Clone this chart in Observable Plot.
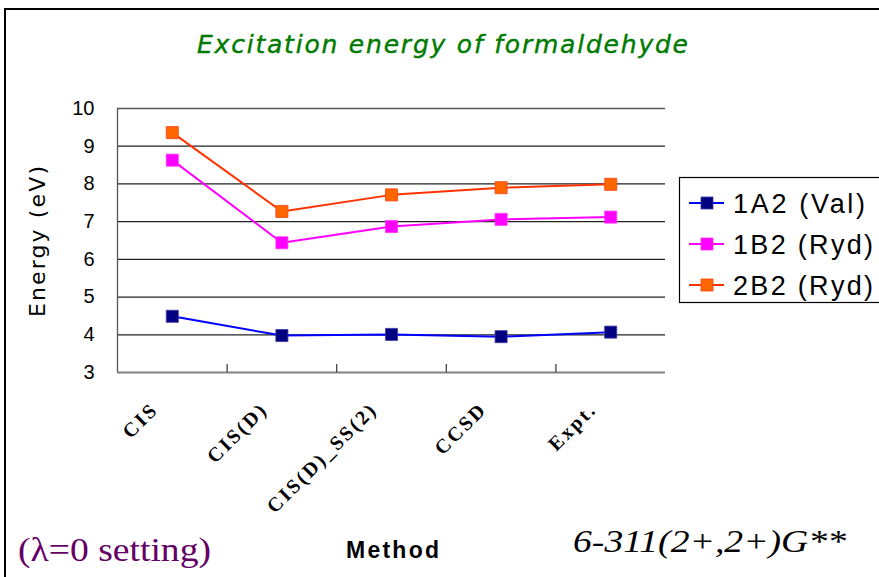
<!DOCTYPE html>
<html>
<head>
<meta charset="utf-8">
<script src="https://cdn.jsdelivr.net/npm/d3@7"></script>
<script src="https://cdn.jsdelivr.net/npm/@observablehq/plot@0.6"></script>
<style>
  html, body { margin: 0; padding: 0; background: #fff; }
  #wrap { position: relative; width: 879px; height: 577px; overflow: hidden; background: #fff; }
  #frame { position: absolute; left: 4px; top: 8px; width: 900px; height: 600px; border-left: 2px solid #000; border-top: 2px solid #000; }
  #chart { position: absolute; left: 0; top: 0; }
  #overlay { position: absolute; left: 0; top: 0; pointer-events: none; }
  g[aria-label="x-axis tick label"] text { letter-spacing: 2.5px; }
</style>
</head>
<body>
<div id="wrap">
  <div id="frame"></div>
  <div id="chart"></div>
  <svg id="overlay" width="879" height="577"></svg>
</div>
<script>
// ---- data ----
const methods = ["CIS", "CIS(D)", "CIS(D)_SS(2)", "CCSD", "Expt."];
const seriesNames = ["1A2 (Val)", "1B2 (Ryd)", "2B2 (Ryd)"];
const val1A2 = [4.49, 3.98, 4.01, 3.95, 4.07];
const ryd1B2 = [8.63, 6.44, 6.87, 7.06, 7.12];
const ryd2B2 = [9.36, 7.27, 7.71, 7.90, 7.99];
const yTicks = [3, 4, 5, 6, 7, 8, 9, 10];
const lineColors = ["#0000ff", "#ff00ff", "#ff3300"];
const markerFill = ["#000080", "#ff00ff", "#ff6600"];
const markerStroke = ["#3a3aa0", "#ff33ff", "#ff4010"];
const titleText = "Excitation energy of formaldehyde";
const yLabel = "Energy (eV)";
const xLabel = "Method";
const noteLeft = "(\u03bb=0 setting)";
const noteRight = "6-311(2+,2+)G**";

const seriesValues = [val1A2, ryd1B2, ryd2B2];
const rows = seriesValues.map((vals, s) => vals.map((v, i) => ({i, v, s: seriesNames[s]})));
const boundaries = methods.slice(1).map((_, k) => k + 0.5);
const gridValues = yTicks.filter(t => t > yTicks[0] && t < yTicks[yTicks.length - 1]);

const marks = [
  Plot.ruleY(gridValues, {stroke: "#222", strokeWidth: 1.2}),
  Plot.ruleY([yTicks[yTicks.length - 1]], {stroke: "#555", strokeWidth: 1.3}),
  Plot.ruleX([-0.5], {stroke: "#555", strokeWidth: 1.3}),
  Plot.ruleY([yTicks[0]], {stroke: "#808080", strokeWidth: 2}),
  Plot.ruleX(boundaries, {y1: 3, y2: 3.21, stroke: "#333", strokeWidth: 1.2}),
  Plot.axisY({ticks: yTicks, tickFormat: d => String(d), tickSize: 0, tickPadding: 23, fontSize: 20,
    fontFamily: "Liberation Sans", label: null, color: "#000"}),
  Plot.axisX({ticks: methods.map((_, i) => i), tickFormat: i => methods[i], tickRotate: -45, tickSize: 0, tickPadding: 0,
    textAnchor: "end", lineAnchor: "bottom", dx: -13, dy: 38, fontSize: 20, fontWeight: "bold",
    fontFamily: "Liberation Serif", label: null, color: "#000"})
];
rows.forEach((data, s) => {
  marks.push(Plot.line(data, {x: "i", y: "v", stroke: lineColors[s], strokeWidth: 2}));
});
rows.forEach((data, s) => {
  marks.push(Plot.dot(data, {x: "i", y: "v", symbol: "square", r: 6.8, fill: markerFill[s], stroke: markerStroke[s], strokeWidth: 0.8}));
});

const chart = Plot.plot({
  width: 879, height: 577,
  marginLeft: 117, marginRight: 214, marginTop: 108, marginBottom: 205,
  style: {background: "transparent", overflow: "visible"},
  x: {type: "linear", domain: [-0.5, methods.length - 0.5], axis: null},
  y: {domain: [yTicks[0], yTicks[yTicks.length - 1]], axis: null},
  marks
});
document.getElementById("chart").appendChild(chart);

// ---- overlay texts & legend ----
const ov = d3.select("#overlay");
ov.append("text").attr("x", 197).attr("y", 53).attr("textLength", 491).attr("lengthAdjust", "spacing")
  .style("font-family", "'DejaVu Sans'").style("font-style", "italic").style("font-size", "25px")
  .attr("fill", "#007a00").attr("stroke", "#007a00").attr("stroke-width", 0.4).text(titleText);
ov.append("text").attr("transform", "translate(45,241.5) rotate(-90)").attr("text-anchor", "middle")
  .attr("textLength", 151).attr("lengthAdjust", "spacing")
  .style("font-family", "'DejaVu Sans'").style("font-size", "22px").attr("fill", "#000").text(yLabel);
ov.append("text").attr("x", 346).attr("y", 558).attr("textLength", 93).attr("lengthAdjust", "spacing")
  .style("font-family", "'Liberation Sans'").style("font-weight", "bold").style("font-size", "23px").attr("fill", "#000").text(xLabel);
ov.append("text").attr("x", 18).attr("y", 561).attr("textLength", 193).attr("lengthAdjust", "spacingAndGlyphs")
  .style("font-family", "'Liberation Serif'").style("font-size", "34px").attr("fill", "#660066").text(noteLeft);
ov.append("text").attr("x", 573).attr("y", 552).attr("textLength", 273).attr("lengthAdjust", "spacingAndGlyphs")
  .style("font-family", "'Liberation Serif'").style("font-style", "italic").style("font-size", "31px").attr("fill", "#000").text(noteRight);

const lg = ov.append("g");
lg.append("rect").attr("x", 679.5).attr("y", 177.5).attr("width", 230).attr("height", 125)
  .attr("fill", "#fff").attr("stroke", "#000").attr("stroke-width", 1.2);
const legendBase = [213, 254, 295];
const legendWidths = [132, 140, 140];
seriesNames.forEach((name, s) => {
  const cy = legendBase[s] - 10;
  lg.append("line").attr("x1", 689).attr("x2", 724).attr("y1", cy).attr("y2", cy).attr("stroke", lineColors[s]).attr("stroke-width", 2);
  lg.append("rect").attr("x", 701).attr("y", cy - 6).attr("width", 12).attr("height", 12)
    .attr("fill", markerFill[s]).attr("stroke", markerStroke[s]).attr("stroke-width", 0.8);
  lg.append("text").attr("x", 733).attr("y", legendBase[s]).attr("textLength", legendWidths[s]).attr("lengthAdjust", "spacing")
    .style("font-family", "'Liberation Sans'").style("font-size", "27px").attr("fill", "#000").text(name);
});
</script>
</body>
</html>
